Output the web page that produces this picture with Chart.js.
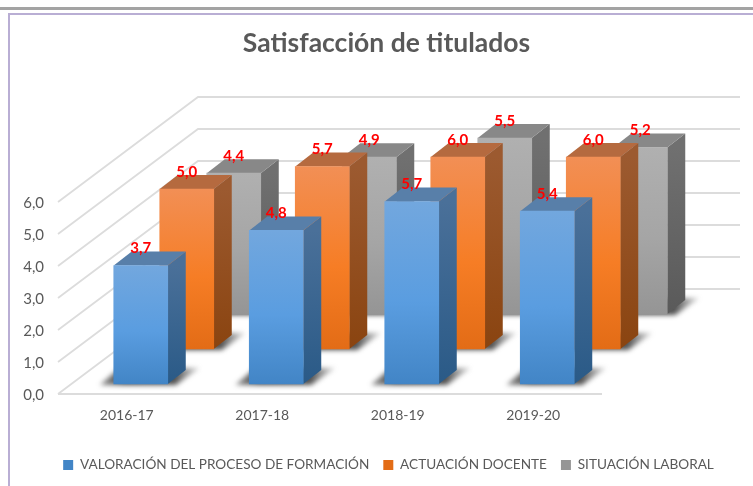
<!DOCTYPE html>
<html>
<head>
<meta charset="utf-8">
<script src="https://cdn.jsdelivr.net/npm/chart.js@4"></script>
<style>
html,body{margin:0;padding:0;background:#fff;overflow:hidden}
#wrap{position:relative;width:753px;height:486px}
canvas{position:absolute;left:0;top:0}
.a{position:absolute}
</style>
</head>
<body>
<div id="wrap">
<div class="a" style="left:0;top:7px;width:753px;height:3px;background:#a3a3a3"></div>
<div class="a" style="left:8px;top:13px;width:745px;height:2px;background:#b9aed4"></div>
<div class="a" style="left:8px;top:13px;width:2px;height:473px;background:#b9aed4"></div>
<canvas id="c" width="753" height="486"></canvas>
</div>
<script>
const categories = ['2016-17','2017-18','2018-19','2019-20'];
const formacion = [3.7,4.8,5.7,5.4];
const docente = [5.0,5.7,6.0,6.0];
const laboral = [4.4,4.9,5.5,5.2];
const yTicks = [0,1,2,3,4,5,6];

const FONT = 'Lato, "Open Sans", sans-serif';
const TXT = '#595959';
// 3D look
const WALL = {dx:140, dy:-105};
const BAR = {dx:18, dy:-14};
const SHIFT = [{x:14,y:-10},{x:60,y:-45},{x:107,y:-80}];
const LOOK = [
 {solid:'#5b9bd5', front:['#72a7de','#5a9de0','#4285c6'], side:['#4a7099','#2a5a87'], top:'#587fa9'},
 {solid:'#ed7d31', front:['#f28f55','#f67d25','#e36c16'], side:['#9c5a30','#8a4410'], top:'#b56a3f'},
 {solid:'#a5a5a5', front:['#b0b0b0','#a5a5a5','#959595'], side:['#707070','#5a5a5a'], top:'#888888'}
];
const fmt = v => Number(v).toFixed(1).replace('.',',');

function frontFill(i){
  return c => {
    if(!c.parsed || c.parsed.y === undefined) return LOOK[i].solid;
    const s = c.chart.scales.y;
    const y0 = s.getPixelForValue(c.parsed.y), y1 = s.getPixelForValue(0);
    if(!isFinite(y0) || !isFinite(y1)) return LOOK[i].solid;
    const g = c.chart.ctx.createLinearGradient(0,y0,0,y1);
    g.addColorStop(0,LOOK[i].front[0]);
    g.addColorStop(.55,LOOK[i].front[1]);
    g.addColorStop(1,LOOK[i].front[2]);
    return g;
  };
}
function poly(ctx,pts){
  ctx.beginPath();
  pts.forEach((p,i)=> i?ctx.lineTo(p[0],p[1]):ctx.moveTo(p[0],p[1]));
  ctx.closePath();
  ctx.fill();
}
const threeD = {
  id:'threeD',
  afterLayout(chart){
    chart.legend.left += 12; chart.legend.right += 12;
    chart.titleBlock.left += 10; chart.titleBlock.right += 10;
  },
  beforeDatasetsDraw(chart){
    const {ctx,scales:{x,y},chartArea:a} = chart;
    ctx.save();
    ctx.strokeStyle='#dcdcdc'; ctx.lineWidth=1.8;
    yTicks.forEach(v=>{
      const py=y.getPixelForValue(v);
      ctx.beginPath();
      ctx.moveTo(a.left-1,py);
      ctx.lineTo(a.left-1+WALL.dx,py+WALL.dy);
      ctx.lineTo(a.right-1+WALL.dx,py+WALL.dy);
      ctx.stroke();
    });
    const p0=y.getPixelForValue(0);
    ctx.beginPath(); ctx.moveTo(a.left-1,p0); ctx.lineTo(a.right+1,p0); ctx.stroke();
    ctx.restore();
  },
  beforeDatasetDraw(chart,{index,meta}){
    const ctx=chart.ctx, s=SHIFT[index], L=LOOK[index];
    ctx.save();
    ctx.translate(s.x,s.y);
    meta.data.forEach(b=>{
      const p=b.getProps(['x','y','base','width'],true);
      const l=p.x-p.width/2, r=p.x+p.width/2, t=p.y, d=p.base;
      // floor shadow
      ctx.save();
      ctx.filter='blur(2.5px)';
      const sg=ctx.createLinearGradient(l-14,0,r+32,0);
      sg.addColorStop(0,'rgba(60,60,60,.55)');
      sg.addColorStop(.25,'rgba(45,45,45,.9)');
      sg.addColorStop(.75,'rgba(50,50,50,.85)');
      sg.addColorStop(1,'rgba(110,110,110,.25)');
      ctx.fillStyle=sg;
      poly(ctx,[[l-14,d+1],[r+8,d+1],[r+32,d-16],[l+6,d-16]]);
      ctx.restore();
      // side face
      const g=ctx.createLinearGradient(0,t,0,d);
      g.addColorStop(0,L.side[0]); g.addColorStop(1,L.side[1]);
      ctx.fillStyle=g;
      poly(ctx,[[r,t],[r+BAR.dx,t+BAR.dy],[r+BAR.dx,d+BAR.dy],[r,d]]);
      // top face
      ctx.fillStyle=L.top;
      poly(ctx,[[l,t],[l+BAR.dx,t+BAR.dy],[r+BAR.dx,t+BAR.dy],[r,t]]);
    });
  },
  afterDatasetDraw(chart){ chart.ctx.restore(); },
  afterDatasetsDraw(chart){
    const ctx=chart.ctx;
    ctx.save();
    ctx.font='bold 15px '+FONT;
    ctx.fillStyle='#ff0000';
    ctx.textAlign='center'; ctx.textBaseline='middle';
    chart.data.datasets.forEach((ds,i)=>{
      const s=SHIFT[i];
      chart.getDatasetMeta(i).data.forEach((b,j)=>{
        ctx.fillText(fmt(ds.data[j]),b.x+s.x,b.y+s.y-17);
      });
    });
    ctx.restore();
  }
};

new Chart(document.getElementById('c'),{
  type:'bar',
  data:{
    labels:categories,
    datasets:[
      {label:'VALORACIÓN DEL PROCESO DE FORMACIÓN',data:formacion,backgroundColor:frontFill(0)},
      {label:'ACTUACIÓN DOCENTE',data:docente,backgroundColor:frontFill(1)},
      {label:'SITUACIÓN LABORAL',data:laboral,backgroundColor:frontFill(2)}
    ]
  },
  plugins:[threeD],
  options:{
    responsive:false,
    animation:false,
    clip:false,
    datasets:{bar:{grouped:false,barThickness:54,borderWidth:0,clip:false}},
    layout:{padding:{bottom:4.2}},
    scales:{
      x:{
        grid:{display:false},border:{display:false},
        ticks:{color:TXT,font:{family:FONT,size:14},padding:5,maxRotation:0},
        afterFit:s=>{s.height=50.2;}
      },
      y:{
        min:0,max:6,
        grid:{display:false},border:{display:false},
        afterBuildTicks:s=>{s.ticks=yTicks.map(v=>({value:v}));},
        ticks:{color:TXT,font:{family:FONT,size:15},padding:7,labelOffset:1,callback:fmt},
        afterFit:s=>{s.width=59;}
      },
      pad:{
        position:'right',display:true,
        grid:{display:false},border:{display:false},
        ticks:{display:false},
        afterFit:s=>{s.width=152;}
      }
    },
    plugins:{
      title:{display:true,text:'Satisfacción de titulados',color:TXT,
        font:{family:FONT,size:26.5,weight:'bold',lineHeight:1.2},
        padding:{top:28,bottom:142.2}},
      legend:{position:'bottom',
        labels:{color:TXT,boxWidth:10,boxHeight:10,padding:14,font:{family:FONT,size:13.6}}},
      tooltip:{enabled:false}
    }
  }
});
</script>
</body>
</html>
